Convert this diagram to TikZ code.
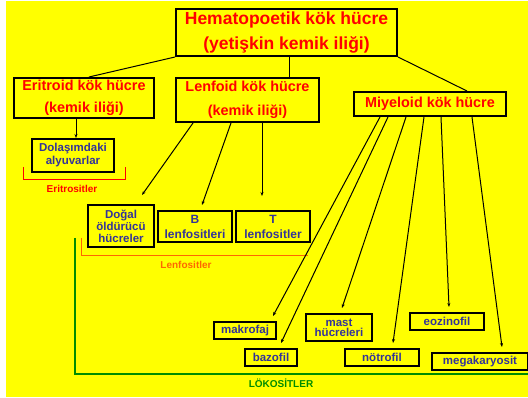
\documentclass[tikz,border=0pt]{standalone}
\usepackage{fontspec}
\setmainfont{Liberation Sans}
\usepackage{tikz}
\usetikzlibrary{arrows.meta}
\usetikzlibrary{calc}
\definecolor{sari}{RGB}{255,255,0}
\definecolor{lacivert}{RGB}{51,51,153}
\definecolor{turuncu}{RGB}{255,102,0}
\definecolor{yesil}{RGB}{0,140,0}

\begin{document}
\begin{tikzpicture}[x=1pt, y=-1pt,
  kutu/.style={draw, line width=2pt, inner sep=0pt, align=center},
  ana/.style={kutu, text=red, font={\bfseries\fontsize{14.4}{22}\selectfont}},
  hucre/.style={kutu, text=lacivert, font={\bfseries\fontsize{11.5}{12}\selectfont}},
  ok/.style={line width=1pt, -{Stealth[length=4pt, width=3pt]}},
  dal/.style={line width=1pt, -},
  etiket/.style={font={\bfseries\fontsize{10}{12}\selectfont}}]

% Zemin
\useasboundingbox (0,0) rectangle (528,398);
\fill[sari] (6,1) rectangle (528,397);

% Kok hucre
\node[ana, font={\bfseries\fontsize{17.5}{25}\selectfont}, minimum width=221, minimum height=47] at (286.5,32.5) (hsc) {Hematopoetik kök hücre\\(yetişkin kemik iliği)};

% Eritroid, Lenfoid, Miyeloid
\node[ana, minimum width=140, minimum height=40] at (84,98) (erit) {Eritroid kök hücre\\(kemik iliği)};
\node[ana, font={\bfseries\fontsize{14.4}{24}\selectfont}, minimum width=143, minimum height=44] at (247.5,100) (lenf) {Lenfoid kök hücre\\(kemik iliği)};
\node[ana, minimum width=152, minimum height=24] at (430,104) (miye) {Miyeloid kök hücre};
\draw[dal] (hsc.south west) -- ([xshift=5pt]erit.north);
\draw[dal] ([xshift=2.5pt]hsc.south) -- ([xshift=41.5pt]lenf.north);
\draw[dal] (hsc.south east) -- ([xshift=37pt]miye.north);

% Eritrositler
\node[hucre, font={\bfseries\fontsize{11.5}{13}\selectfont}, minimum width=82, minimum height=33] at (73,155.5) (dolas) {Dolaşımdaki\\alyuvarlar};
\draw[ok] ([xshift=-8pt]erit.south) -- ([xshift=3pt]dolas.north);
\draw[red, line width=1pt] (23,167) -- (23,180) -- (125,180) -- (125,167);
\node[etiket, text=red] at (72,189) (eritrosit) {Eritrositler};

% Lenfositler
\node[hucre, line width=2.4pt, minimum width=66, minimum height=42] at (121,226) (nk) {Doğal\\öldürücü\\hücreler};
\node[hucre, font={\bfseries\fontsize{12}{15}\selectfont}, minimum width=74, minimum height=31] at (195,226.5) (bcell) {B\\lenfositleri};
\node[hucre, font={\bfseries\fontsize{12}{15}\selectfont}, minimum width=74, minimum height=31] at (273,226.5) (tcell) {T\\lenfositler};
\coordinate (nk-uc) at (142,195);
\coordinate (bcell-uc) at (202,205);
\coordinate (tcell-uc) at (262,196);
\draw[ok] ([xshift=-54.5pt]lenf.south) -- (nk-uc);
\draw[ok] ([xshift=-16.5pt]lenf.south) -- (bcell-uc);
\draw[ok] ([xshift=14.5pt]lenf.south) -- (tcell-uc);
\draw[turuncu, line width=1pt] (81,238) -- (81,256) -- (308,256);
\node[etiket, text=turuncu] at (186,265) (lenfosit) {Lenfositler};

% Miyeloid hucreler
\node[hucre, minimum width=62, minimum height=17] at (245,330.5) (makro) {makrofaj};
\node[hucre, minimum width=52, minimum height=17] at (271,357.5) (bazo) {bazofil};
\node[hucre, font={\bfseries\fontsize{11.5}{10}\selectfont}, minimum width=66, minimum height=27] at (339,327.5) (mast) {mast\\hücreleri};
\node[hucre, minimum width=74, minimum height=17] at (382,357.5) (notro) {nötrofil};
\node[hucre, minimum width=74, minimum height=17] at (447,321.5) (eozi) {eozinofil};
\node[hucre, minimum width=96, minimum height=17] at (480,361.5) (mega) {megakaryosit};
\coordinate (makro-uc) at (273,316);
\coordinate (bazo-uc) at (281,343);
\coordinate (mast-uc) at (342,308);
\coordinate (notro-uc) at (393,343);
\coordinate (eozi-uc) at (449,307);
\coordinate (mega-uc) at (502,347);
\draw[ok] ([xshift=-50pt]miye.south) -- (makro-uc);
\draw[ok] ([xshift=-42pt]miye.south) -- (bazo-uc);
\draw[ok] ([xshift=-24pt]miye.south) -- (mast-uc);
\draw[ok] ([xshift=-6pt]miye.south) -- (notro-uc);
\draw[ok] ([xshift=11pt]miye.south) -- (eozi-uc);
\draw[ok] ([xshift=42pt]miye.south) -- (mega-uc);

% Lokositler
\draw[yesil, line width=1.5pt] (75,238) -- (75,374) -- (528,374);
\node[etiket, text=yesil] at (281,383) (lokosit) {LÖKOSİTLER};

\end{tikzpicture}
\end{document}
